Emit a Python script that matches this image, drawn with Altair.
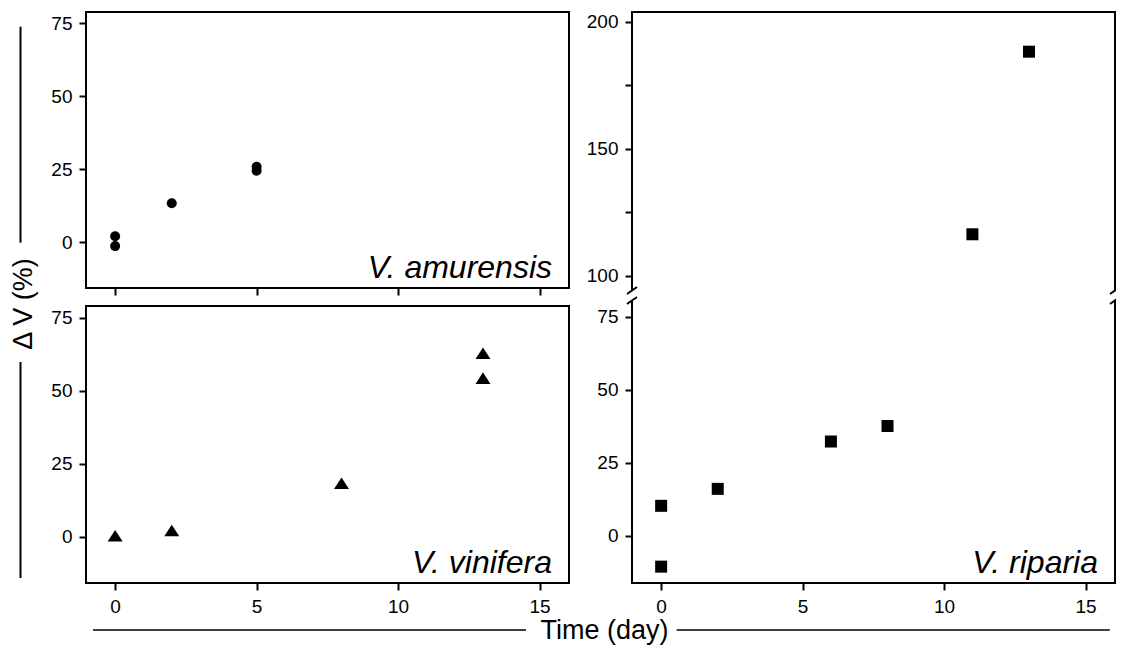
import altair as alt
import pandas as pd

# ---- data ----
amur_day = [0, 0, 2, 5, 5]
amur_dv = [2.1, -1.3, 13.4, 25.9, 24.5]
vin_day = [0, 2, 8, 13, 13]
vin_dv = [0.3, 2.1, 18.3, 62.8, 54.3]
rip_day = [0, 0, 2, 6, 8, 11, 13]
rip_dv = [10.3, -10.5, 16.1, 32.3, 37.6, 116.4, 188.2]

species = ["V. amurensis", "V. vinifera", "V. riparia"]
x_ticks = [0, 5, 10, 15]
y_ticks_low = [0, 25, 50, 75]
y_ticks_high = [100, 125, 150, 175, 200]
x_title = "Time (day)"
y_title = "Δ V (%)"

FONT = "Liberation Sans"
W = 483
X_DOM = [-1.03, 16.04]
H_TOP, H_BOT = 279, 283
LW = 2  # frame line width

amur = pd.DataFrame({"day": amur_day, "dv": amur_dv})
vin = pd.DataFrame({"day": vin_day, "dv": vin_dv})
rip = pd.DataFrame({"day": rip_day, "dv": rip_dv})
one = pd.DataFrame({"k": [0]})


def rule(x, y, x2=None, y2=None, sw=LW):
    enc = dict(x=alt.value(x), y=alt.value(y))
    if x2 is not None:
        enc["x2"] = alt.value(x2)
    if y2 is not None:
        enc["y2"] = alt.value(y2)
    return alt.Chart(one).mark_rule(color="black", strokeWidth=sw).encode(**enc)


def frame(w, y0, y1, top=True, bottom=True):
    parts = [rule(0, y0, y2=y1), rule(w, y0, y2=y1)]
    if top:
        parts.append(rule(-1, y0, x2=w + 1))
    if bottom:
        parts.append(rule(-1, y1, x2=w + 1))
    return parts


def xenc(mode, offset=0):
    if mode == "none":
        ax = None
    elif mode == "ticks":
        ax = alt.Axis(values=x_ticks, labels=False, title=None, offset=offset)
    else:
        ax = alt.Axis(values=x_ticks, title=None, labelFlush=False)
    return alt.X("day:Q", scale=alt.Scale(domain=X_DOM, nice=False, zero=False), axis=ax)


def yenc(dom, ticks, high=False):
    if high:
        ax = alt.Axis(values=ticks, title=None,
                      labelExpr="datum.value % 50 == 0 ? datum.label : ''")
    else:
        ax = alt.Axis(values=ticks, title=None)
    return alt.Y("dv:Q", scale=alt.Scale(domain=dom, nice=False, zero=False), axis=ax)


def label(text, w, ybase):
    return alt.Chart(pd.DataFrame({"t": [text]})).mark_text(
        align="right", baseline="alphabetic", font=FONT, fontSize=32,
        fontStyle="italic", color="black"
    ).encode(x=alt.value(w - 17), y=alt.value(ybase), text="t:N")


tri_path = "M0,-0.77L-1,0.77L1,0.77Z"

# top-left: V. amurensis (frame ends 3px above the cell bottom)
LT_BOT = H_TOP - 3
lt_pts = alt.Chart(amur).mark_point(shape="circle", filled=True, color="black",
                                    size=100, opacity=1).encode(
    x=xenc("ticks", offset=-3), y=yenc([-16.68, 78.87], y_ticks_low))
ytitle = alt.Chart(pd.DataFrame({"t": [y_title]})).mark_text(
    angle=270, align="center", baseline="middle", font=FONT, fontSize=27, color="black"
).encode(x=alt.value(-62), y=alt.value(292), text="t:N")
lt = alt.layer(lt_pts, *frame(W, 0, LT_BOT), label(species[0], W, LT_BOT - 10), ytitle,
               rule(-65.5, 14.7, y2=230.7)).properties(width=W, height=H_TOP)

# bottom-left: V. vinifera (frame starts 6px below the cell top)
LB_TOP = 6
lb_pts = alt.Chart(vin).mark_point(shape=tri_path, filled=True, color="black",
                                   size=225, opacity=1).encode(
    x=xenc("full"), y=yenc([-15.86, 81.06], y_ticks_low))
xtitle = alt.Chart(pd.DataFrame({"t": [x_title]})).mark_text(
    align="center", baseline="alphabetic", font=FONT, fontSize=27, color="black"
).encode(x=alt.value(518.5), y=alt.value(339), text="t:N")
lb = alt.layer(lb_pts, *frame(W, LB_TOP, H_BOT), label(species[1], W, H_BOT - 10), xtitle,
               rule(-65.5, 62, y2=278),
               rule(7, 330, x2=440, sw=1.6),
               rule(590.7, 330, x2=1023.8, sw=1.6)).properties(width=W, height=H_BOT)

# top-right: V. riparia (upper part of broken axis)
rt_pts = alt.Chart(rip).transform_filter("datum.dv > 90").mark_point(
    shape="square", filled=True, color="black", size=144, opacity=1).encode(
    x=xenc("none"), y=yenc([94.1, 203.8], y_ticks_high, high=True))
rt = alt.layer(rt_pts, *frame(W, 0, H_TOP, bottom=False),
               rule(-5, H_TOP + 3, x2=5, y2=H_TOP - 4),
               rule(W - 5, H_TOP + 3, x2=W + 5, y2=H_TOP - 4)).properties(width=W, height=H_TOP)

# bottom-right: V. riparia (lower part)
rb_pts = alt.Chart(rip).transform_filter("datum.dv < 90").mark_point(
    shape="square", filled=True, color="black", size=144, opacity=1).encode(
    x=xenc("full"), y=yenc([-16.1, 80.7], y_ticks_low))
rb = alt.layer(rb_pts, *frame(W, 0, H_BOT, top=False), label(species[2], W, H_BOT - 10),
               rule(-5, 4, x2=5, y2=-3),
               rule(W - 5, 4, x2=W + 5, y2=-3)).properties(width=W, height=H_BOT)

chart = alt.concat(lt, rt, lb, rb, columns=2, spacing={"row": 9, "column": 63},
                   bounds="flush").properties(
    autosize=alt.AutoSizeParams(type="none"),
    padding={"left": 78, "top": 4, "right": 1030, "bottom": 634}
).configure_view(strokeWidth=0).configure_axis(
    domain=False, grid=False, labelFont=FONT, labelFontSize=19, labelColor="black",
    tickColor="black", tickWidth=2, tickSize=7, labelPadding=7
)

chart.save("out.html", embed_options={"renderer": "svg", "actions": False})
